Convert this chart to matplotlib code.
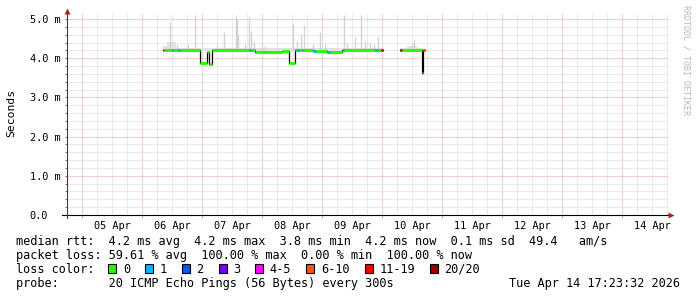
import numpy as np
import matplotlib

matplotlib.use("Agg")
import matplotlib.pyplot as plt
import matplotlib.dates as mdates
from matplotlib.patches import Rectangle
from matplotlib.ticker import FuncFormatter, MultipleLocator, NullFormatter

# median rtt (ms) as steps: value holds from its time until the next time
med_time = [
    "2026-04-06T08:24", "2026-04-06T08:48", "2026-04-06T11:48", "2026-04-06T12:24",
    "2026-04-06T14:24", "2026-04-06T15:00", "2026-04-06T23:12", "2026-04-07T01:48",
    "2026-04-07T02:55", "2026-04-07T04:00", "2026-04-07T18:48", "2026-04-07T19:24",
    "2026-04-07T21:12", "2026-04-08T03:12", "2026-04-08T08:00", "2026-04-08T10:36",
    "2026-04-08T13:12", "2026-04-08T14:00", "2026-04-08T14:48", "2026-04-08T16:00",
    "2026-04-08T16:24", "2026-04-08T20:24", "2026-04-08T21:36", "2026-04-09T02:00",
    "2026-04-09T03:12", "2026-04-09T08:00", "2026-04-09T08:24", "2026-04-09T08:48",
    "2026-04-09T21:12", "2026-04-09T22:12", "2026-04-09T23:36", "2026-04-10T00:12",
    "2026-04-10T07:12", "2026-04-10T07:48", "2026-04-10T15:48", "2026-04-10T16:17",
    "2026-04-10T17:12",
]
med_ms = [
    4.21, 4.21, 4.22, 4.21,
    4.22, 4.21, 3.87, 4.15,
    3.86, 4.20, 4.20, 4.20,
    4.17, 4.15, 4.18, 3.87,
    4.20, 4.20, 4.20, 4.20,
    4.20, 4.19, 4.19, 4.15,
    4.15, 4.20, 4.20, 4.20,
    4.20, 4.20, 4.20, np.nan,
    4.20, 4.20, 3.62, 4.20,
    np.nan,
]
# index into loss_labels / loss_colors
med_loss = [
    4, 0, 1, 0,
    1, 0, 0, 0,
    0, 0, 1, 0,
    0, 0, 0, 0,
    0, 1, 0, 1,
    0, 1, 0, 1,
    0, 0, 1, 0,
    1, 0, 6, 0,
    6, 0, 0, 5,
    0,
]

# smoke band around the median
smoke_start = ["2026-04-06T08:24", "2026-04-06T10:00", "2026-04-06T13:30",
               "2026-04-10T07:12", "2026-04-10T10:00"]
smoke_end = ["2026-04-06T10:00", "2026-04-06T13:30", "2026-04-10T00:12",
             "2026-04-10T17:12", "2026-04-10T14:00"]
smoke_low = [4.19, 4.19, 4.19, 4.19, 4.19]
smoke_high = [4.30, 4.42, 4.27, 4.27, 4.30]

# smoke spikes (slowest pings)
spike_time = [
    "2026-04-06T11:12", "2026-04-06T13:53", "2026-04-06T18:31", "2026-04-06T21:12",
    "2026-04-07T05:53", "2026-04-07T08:48", "2026-04-07T11:00", "2026-04-07T13:29",
    "2026-04-07T13:48", "2026-04-07T14:31", "2026-04-07T17:12", "2026-04-07T18:55",
    "2026-04-07T19:36", "2026-04-07T20:48", "2026-04-07T23:53", "2026-04-08T01:12",
    "2026-04-08T12:17", "2026-04-08T13:53", "2026-04-08T15:29", "2026-04-08T16:48",
    "2026-04-08T20:31", "2026-04-08T23:12", "2026-04-09T01:12", "2026-04-09T08:48",
    "2026-04-09T09:53", "2026-04-09T13:12", "2026-04-09T15:29", "2026-04-09T17:12",
    "2026-04-09T19:12", "2026-04-09T20:55", "2026-04-09T22:31", "2026-04-09T23:53",
    "2026-04-10T12:00", "2026-04-10T12:48",
]
spike_top = [
    4.92, 4.35, 4.35, 5.09,
    4.33, 4.67, 4.28, 5.09,
    5.00, 4.60, 4.35, 5.05,
    4.70, 4.42, 4.35, 4.30,
    4.88, 4.43, 4.63, 4.84,
    4.35, 4.67, 4.35, 5.11,
    4.38, 4.55, 5.09, 4.45,
    4.42, 4.36, 4.53, 4.30,
    4.40, 4.47,
]
spike_base = 4.20

loss_labels = ["0", "1", "2", "3", "4-5", "6-10", "11-19", "20/20"]
loss_colors = ["#26ff00", "#00b8ff", "#0059ff", "#7e00ff",
               "#ff00ff", "#ff5500", "#ff0000", "#a10000"]

stats_rtt = "median rtt:  4.2 ms avg  4.2 ms max  3.8 ms min  4.2 ms now  0.1 ms sd  49.4   am/s"
stats_loss = "packet loss: 59.61 % avg  100.00 % max  0.00 % min  100.00 % now"
probe_text = "probe:       20 ICMP Echo Pings (56 Bytes) every 300s"
stamp_text = "Tue Apr 14 17:23:32 2026"
watermark = "RRDTOOL / TOBI OETIKER"

x_start = "2026-04-04T18:00"
x_end = "2026-04-14T18:24"

W, H = 697, 297
MONO = "DejaVu Sans Mono"


def fx(x):
    return x / W


def fy(y):
    return 1 - y / H


def to_num(values):
    return mdates.date2num(np.array(values, dtype="datetime64[m]"))


def noon_label(v, pos):
    if int(round((v % 1) * 24)) == 12:
        return mdates.num2date(v).strftime("%d %b")
    return ""


def main():
    fig = plt.figure(figsize=(W / 100, H / 100), dpi=100)
    fig.patch.set_facecolor("white")
    left, right, top, bottom = 67, 668, 13, 215
    ax = fig.add_axes([fx(left), fy(bottom), (right - left) / W, (bottom - top) / H])
    ax.set_facecolor("white")

    t = to_num(med_time)
    for s, e, lo, hi in zip(to_num(smoke_start), to_num(smoke_end), smoke_low, smoke_high):
        ax.fill_between([s, e], lo, hi, color="#e2e2e2", lw=0, zorder=2)
    ax.vlines(to_num(spike_time), spike_base, spike_top, color="#d2d2d2", lw=1.0, zorder=2)

    ax.step(t, med_ms, where="post", color="black", lw=0.9, zorder=3)
    for i in range(len(t) - 1):
        if np.isnan(med_ms[i]):
            continue
        ax.hlines(med_ms[i], t[i], t[i + 1], color=loss_colors[med_loss[i]], lw=2.2, zorder=4)

    ax.set_xlim(to_num([x_start])[0], to_num([x_end])[0])
    ax.set_ylim(0, 5.153)

    ax.xaxis.set_major_locator(mdates.DayLocator())
    ax.xaxis.set_minor_locator(mdates.HourLocator(byhour=[6, 12, 18]))
    ax.xaxis.set_major_formatter(NullFormatter())
    ax.xaxis.set_minor_formatter(FuncFormatter(noon_label))
    ax.yaxis.set_major_locator(MultipleLocator(1))
    ax.yaxis.set_minor_locator(MultipleLocator(0.2))
    ax.yaxis.set_major_formatter(FuncFormatter(lambda v, p: "0.0" if v == 0 else f"{v:.1f} m"))

    ax.set_axisbelow(True)
    ax.grid(which="major", color="#eaa0a0", ls=(0, (1, 1)), lw=0.72)
    ax.grid(which="minor", color="#d6d6d6", ls=(0, (1, 1)), lw=0.72)

    for sp in ax.spines.values():
        sp.set_visible(False)
    ax.tick_params(axis="x", which="major", length=2.2, width=0.72, color="#eaa0a0", direction="out")
    ax.tick_params(axis="x", which="minor", length=0, pad=4.3, labelsize=7.4)
    ax.tick_params(axis="y", which="both", length=1.8, width=0.72, color="#707070", direction="out")
    ax.tick_params(axis="y", which="major", pad=25.2, labelsize=7.4)
    for lab in ax.get_xticklabels(minor=True) + ax.get_yticklabels():
        lab.set_fontfamily(MONO)
    for lab in ax.get_yticklabels():
        lab.set_horizontalalignment("left")

    # axis lines with arrows
    aw, ah = right - left, bottom - top
    ax.plot([-5 / aw, 1.0], [0, 0], transform=ax.transAxes, color="black", lw=0.8,
            clip_on=False, zorder=6)
    ax.plot([0, 0], [-3 / ah, 1.0], transform=ax.transAxes, color="#404040", lw=0.8,
            clip_on=False, zorder=6)
    ax.plot([1 + 3 / aw], [0], marker=">", ms=4.5, color="#a02828", mec="none",
            transform=ax.transAxes, clip_on=False, zorder=7)
    ax.plot([0], [1 + 2.5 / ah], marker="^", ms=4.5, color="#a02828", mec="none",
            transform=ax.transAxes, clip_on=False, zorder=7)

    fig.text(fx(11), fy(113), "Seconds", rotation=90, fontsize=8.2, family=MONO,
             ha="center", va="center")
    fig.text(fx(686), fy(60), watermark, rotation=-90, fontsize=6.0, family=MONO,
             color="#b8b8b8", ha="center", va="center")

    fs = 8.55
    fig.text(fx(16), fy(245), stats_rtt, fontsize=fs, family=MONO, va="baseline")
    fig.text(fx(16), fy(259.3), stats_loss, fontsize=fs, family=MONO, va="baseline")
    fig.text(fx(16), fy(272.7), "loss color:", fontsize=fs, family=MONO, va="baseline")
    fig.text(fx(16), fy(286.7), probe_text, fontsize=fs, family=MONO, va="baseline")
    fig.text(fx(680), fy(286.7), stamp_text, fontsize=fs, family=MONO, va="baseline", ha="right")

    char_w = 0.602 * fs / 72 * 100
    bx = 108.3
    for lab, col in zip(loss_labels, loss_colors):
        fig.patches.append(Rectangle((fx(bx), fy(273)), 8 / W, 9 / H, transform=fig.transFigure,
                                     facecolor=col, edgecolor="black", lw=0.8))
        tx = bx + 14.6
        fig.text(fx(tx), fy(272.7), lab, fontsize=fs, family=MONO, va="baseline")
        bx = tx + len(lab) * char_w + 15

    fig.savefig("out.png", dpi=100, facecolor="white")
    plt.close(fig)


if __name__ == "__main__":
    main()
